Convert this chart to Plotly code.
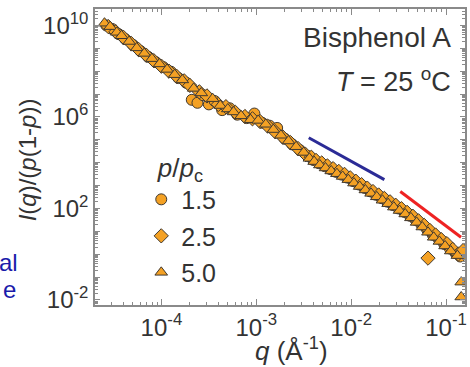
import numpy as np
import plotly.graph_objects as go

# ---- data (log10 values) ----
labels = ["1.5", "2.5", "5.0"]

log_q_15 = [-4.58, -4.52, -4.45, -4.38, -4.30, -4.22, -4.14, -4.06, -3.98, -3.90,
            -3.82, -3.74, -3.68, -3.62, -3.56, -3.50, -3.44, -3.36, -3.28, -3.20,
            -3.10, -3.02, -2.94, -2.86, -2.78, -2.70, -2.62, -2.54, -2.46, -2.40,
            -2.34, -2.28, -2.22, -2.16, -2.10, -2.04, -1.98, -1.92, -1.86, -1.80,
            -1.74, -1.68, -1.62, -1.56, -1.50, -1.44, -1.38, -1.32, -1.26, -1.20,
            -1.14, -1.08, -1.02, -0.96, -0.90, -0.85]
log_I_15 = [10.00, 9.85, 9.62, 9.40, 9.15, 8.88, 8.63, 8.40, 8.18, 7.98,
            7.70, 7.50, 6.75, 6.62, 6.95, 6.55, 6.70, 6.30, 6.38, 6.10,
            5.95, 6.15, 5.75, 5.62, 5.52, 5.05, 4.80, 4.55, 4.30, 4.12,
            3.98, 3.85, 3.72, 3.60, 3.48, 3.35, 3.20, 3.05, 2.90, 2.75,
            2.60, 2.45, 2.30, 2.15, 2.00, 1.85, 1.68, 1.50, 1.30, 1.08,
            0.85, 0.68, 0.45, 0.25, 0.05, -0.10]

log_q_25 = [-4.56, -4.48, -4.40, -4.32, -4.24, -4.16, -4.08, -4.00, -3.92, -3.84,
            -3.76, -3.70, -3.60, -3.52, -3.40, -3.32, -3.22, -3.12, -3.04, -2.96,
            -2.88, -2.80, -2.72, -2.64, -2.56, -2.48, -2.42, -2.37, -2.31, -2.25,
            -2.19, -2.13, -2.07, -2.01, -1.95, -1.89, -1.83, -1.77, -1.71, -1.65,
            -1.59, -1.53, -1.47, -1.41, -1.35, -1.29, -1.23, -1.19, -1.17, -1.11,
            -1.05, -0.99, -0.93, -0.87, -0.82]
log_I_25 = [9.95, 9.72, 9.48, 9.22, 8.95, 8.70, 8.46, 8.22, 8.00, 7.78,
            7.58, 7.38, 7.10, 6.92, 6.55, 6.45, 6.20, 6.02, 5.92, 5.80,
            5.60, 5.35, 5.12, 4.88, 4.62, 4.36, 4.24, 4.10, 3.99, 3.86,
            3.74, 3.62, 3.49, 3.34, 3.19, 3.04, 2.89, 2.74, 2.59, 2.44,
            2.29, 2.14, 1.99, 1.83, 1.66, 1.46, 1.26, -0.17, 1.04, 0.84,
            0.64, 0.46, 0.21, 0.01, 0.16]

log_q_50 = [-4.60, -4.54, -4.47, -4.42, -4.34, -4.26, -4.18, -4.10, -4.02, -3.94,
            -3.86, -3.78, -3.66, -3.58, -3.46, -3.38, -3.30, -3.24, -3.16, -3.06,
            -2.98, -2.90, -2.82, -2.74, -2.66, -2.58, -2.50, -2.44, -2.39, -2.33,
            -2.27, -2.21, -2.15, -2.09, -2.03, -1.97, -1.91, -1.85, -1.79, -1.73,
            -1.67, -1.61, -1.55, -1.49, -1.43, -1.37, -1.31, -1.25, -1.19, -1.13,
            -1.07, -1.01, -0.95, -0.88, -0.84, -0.84]
log_I_50 = [10.10, 9.95, 9.70, 9.55, 9.30, 9.02, 8.78, 8.55, 8.32, 8.08,
            7.85, 7.62, 7.25, 7.05, 6.80, 6.50, 6.35, 6.22, 6.05, 5.88,
            5.85, 5.68, 5.45, 5.20, 4.95, 4.70, 4.45, 4.19, 4.05, 3.90,
            3.77, 3.64, 3.52, 3.40, 3.26, 3.11, 2.96, 2.81, 2.66, 2.51,
            2.36, 2.21, 2.06, 1.91, 1.76, 1.59, 1.39, 1.19, 0.96, 0.74,
            0.56, 0.36, 0.14, -0.06, -1.22, -1.87]

# reference slope lines (log10 endpoints)
blue_log_q = [-2.447, -1.650]
blue_log_I = [5.09, 3.26]
red_log_q = [-1.482, -0.842]
red_log_I = [2.74, 0.74]

x_tick_vals = [1e-4, 1e-3, 1e-2, 1e-1]
x_tick_text = ["10<sup>-4</sup>", "10<sup>-3</sup>", "10<sup>-2</sup>", "10<sup>-1</sup>"]
y_label_exps = [-2, 2, 6, 10]

# ---- styling ----
FONT = "Arial, Liberation Sans, Helvetica, sans-serif"
TXT = "#333333"
AX = "#8a8a8a"
FILL = "#F4A124"
EDGE = "#3f3830"

fig = go.Figure()
series = [
    (log_q_15, log_I_15, "circle", 11),
    (log_q_25, log_I_25, "diamond", 11),
    (log_q_50, log_I_50, "triangle-up", 11),
]
for i, (lq, lI, sym, sz) in enumerate(series):
    fig.add_trace(go.Scatter(
        x=10 ** np.array(lq), y=10 ** np.array(lI), mode="markers", name=labels[i],
        legendgroup=labels[i],
        marker=dict(symbol=sym, size=sz, color=FILL, line=dict(color=EDGE, width=1)),
    ))

fig.add_trace(go.Scatter(x=10 ** np.array(blue_log_q), y=10 ** np.array(blue_log_I), mode="lines",
                         line=dict(color="#2b2b96", width=3), showlegend=False))
fig.add_trace(go.Scatter(x=10 ** np.array(red_log_q), y=10 ** np.array(red_log_I), mode="lines",
                         line=dict(color="#ee2222", width=3), showlegend=False))

x_minor = [m * 10.0 ** k for k in range(-5, 0) for m in range(2, 10)]
y_major = [10.0 ** k for k in range(-3, 12)]
y_text = [("10<sup>%d</sup>" % k) if k in y_label_exps else "" for k in range(-3, 12)]
y_minor = [m * 10.0 ** k for k in range(-3, 11) for m in range(2, 10)]

fig.update_layout(
    width=470, height=367,
    margin=dict(l=95, r=3, t=9, b=62),
    paper_bgcolor="white", plot_bgcolor="white",
    font=dict(family=FONT, color=TXT, size=24),
    xaxis=dict(type="log", range=[-4.70, -0.80], tickvals=x_tick_vals, ticktext=x_tick_text,
               ticks="inside", ticklen=6, tickwidth=1, tickcolor=AX,
               showline=True, linecolor=AX, linewidth=1.5, mirror="ticks",
               showgrid=False, zeroline=False, tickfont=dict(size=24, color=TXT),
               minor=dict(tickvals=x_minor, ticks="inside", ticklen=3, tickcolor=AX, showgrid=False)),
    yaxis=dict(type="log", range=[-2.22, 10.72], tickvals=y_major, ticktext=y_text,
               ticks="inside", ticklen=5, tickwidth=1, tickcolor=AX,
               showline=True, linecolor=AX, linewidth=1.5, mirror="ticks",
               showgrid=False, zeroline=False, tickfont=dict(size=24, color=TXT),
               minor=dict(tickvals=y_minor, ticks="inside", ticklen=3, tickcolor=AX, showgrid=False)),
    legend=dict(x=0.125, y=0.548, xanchor="left", yanchor="top", bgcolor="rgba(0,0,0,0)",
                font=dict(size=25, color=TXT), tracegroupgap=1,
                title=dict(text="  <i>p</i>/<i>p</i><sub>c</sub>", font=dict(size=26, color=TXT))),
    showlegend=True,
)

fig.add_annotation(text="Bisphenol A", xref="paper", yref="paper", x=0.968, y=0.905,
                   xanchor="right", yanchor="middle", showarrow=False, font=dict(size=28, color=TXT))
fig.add_annotation(text="<i>T</i> = 25 <sup>o</sup>C", xref="paper", yref="paper", x=0.968, y=0.76,
                   xanchor="right", yanchor="middle", showarrow=False, font=dict(size=27, color=TXT))
fig.add_annotation(text="<i>I</i>(<i>q</i>)/(<i>p</i>(1-<i>p</i>))", xref="paper", yref="paper",
                   x=-0.18, y=0.49, xanchor="center", yanchor="middle", textangle=-90,
                   showarrow=False, font=dict(size=24, color=TXT))
fig.add_annotation(text="<i>q</i> (Å<sup>-1</sup>)", xref="paper", yref="paper", x=0.532, y=-0.152,
                   xanchor="center", yanchor="middle", showarrow=False, font=dict(size=26, color=TXT))
fig.add_annotation(text="al", xref="paper", yref="paper", x=-0.204, y=0.142,
                   xanchor="right", yanchor="middle", showarrow=False, font=dict(size=24, color="#1a1aaa"))
fig.add_annotation(text="e", xref="paper", yref="paper", x=-0.2554, y=0.054,
                   xanchor="left", yanchor="middle", showarrow=False, font=dict(size=24, color="#1a1aaa"))

fig.write_html("out.html")
